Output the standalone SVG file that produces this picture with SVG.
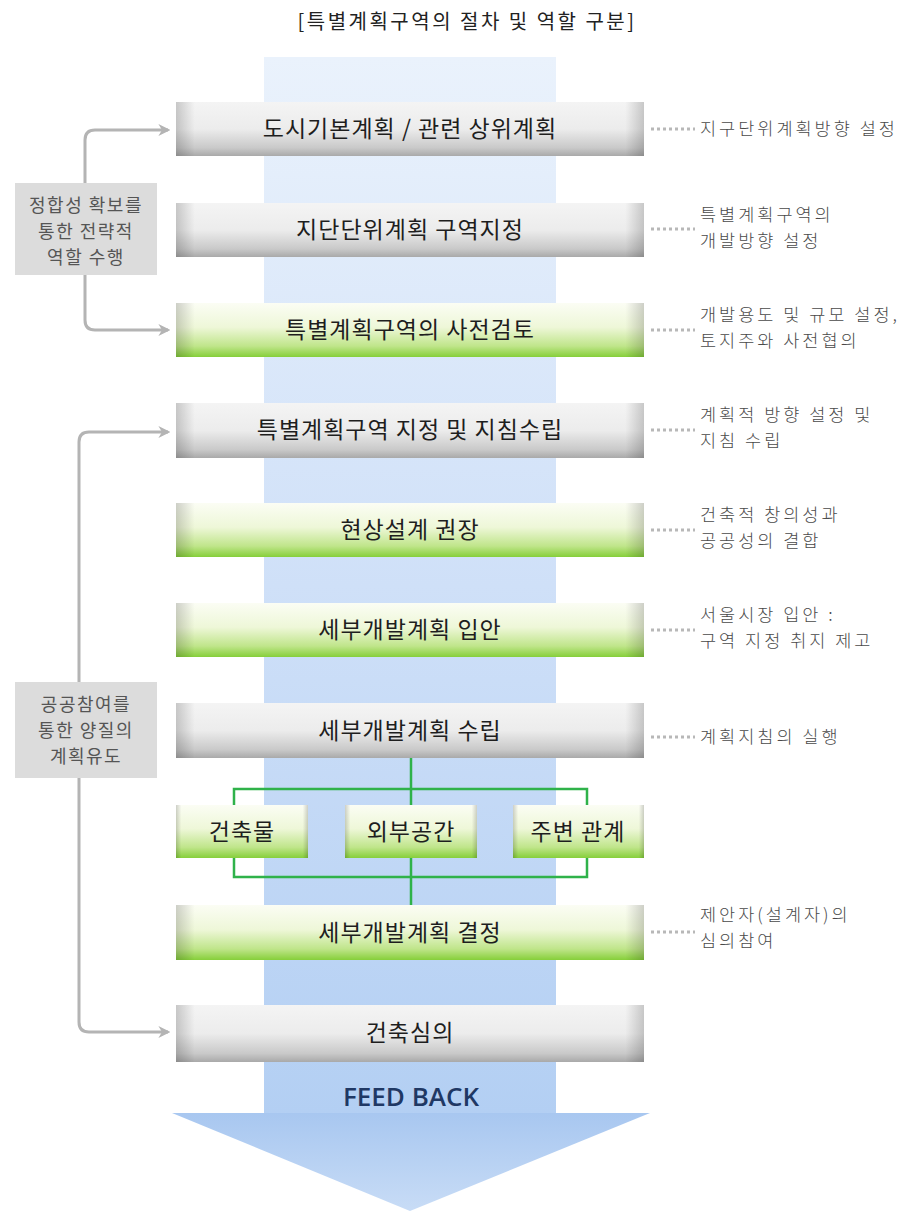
<svg xmlns="http://www.w3.org/2000/svg" width="919" height="1211" viewBox="0 0 919 1211">
<defs>
<linearGradient id="colG" x1="0" y1="0" x2="0" y2="1">
<stop offset="0" stop-color="#eaf2fc"/>
<stop offset="0.5" stop-color="#cfe0f8"/>
<stop offset="1" stop-color="#b3cff3"/>
</linearGradient>
<linearGradient id="headG" x1="0" y1="0" x2="0" y2="1">
<stop offset="0" stop-color="#a8c7f0"/>
<stop offset="1" stop-color="#c8dcf6"/>
</linearGradient>
<linearGradient id="grayG" x1="0" y1="0" x2="0" y2="1">
<stop offset="0" stop-color="#f4f4f4"/>
<stop offset="0.5" stop-color="#ececec"/>
<stop offset="0.85" stop-color="#c9c9c9"/>
<stop offset="1" stop-color="#a9a9a9"/>
</linearGradient>
<linearGradient id="greenG" x1="0" y1="0" x2="0" y2="1">
<stop offset="0" stop-color="#fbfdf4"/>
<stop offset="0.45" stop-color="#eef7d8"/>
<stop offset="0.8" stop-color="#bfe58a"/>
<stop offset="1" stop-color="#86cf3a"/>
</linearGradient>
<linearGradient id="edgeG" x1="0" y1="0" x2="1" y2="0">
<stop offset="0" stop-color="#000" stop-opacity="0.18"/>
<stop offset="0.04" stop-color="#000" stop-opacity="0"/>
<stop offset="0.96" stop-color="#000" stop-opacity="0"/>
<stop offset="1" stop-color="#000" stop-opacity="0.18"/>
</linearGradient>
<marker id="arr" viewBox="0 0 10 10" refX="8" refY="5" markerWidth="4" markerHeight="4" orient="auto" markerUnits="strokeWidth">
<path d="M0,0 L10,5 L0,10 L3,5 Z" fill="#b4b4b4"/>
</marker>
<style>
.bar-g{fill:url(#grayG);}
.bar-n{fill:url(#greenG);}
.edge{fill:url(#edgeG);}
.bt{font-family:"Noto Sans CJK KR","Noto Sans",sans-serif;font-size:23px;font-weight:400;letter-spacing:1px;fill:#1e1e1e;text-anchor:middle;}
.nt{font-family:"Noto Sans CJK KR","Noto Sans",sans-serif;font-size:17.5px;letter-spacing:3px;fill:#4a4a4a;font-weight:300;}
.lb{fill:#dcdcdc;}
.lt{font-family:"Noto Sans CJK KR","Noto Sans",sans-serif;font-size:18px;letter-spacing:1.5px;fill:#555;text-anchor:middle;}
.dot{stroke:#b8b8b8;stroke-width:3;stroke-dasharray:3 3;fill:none;}
.lc{stroke:#b4b4b4;stroke-width:3;fill:none;}
.gl{stroke:#2fb24a;stroke-width:2.5;fill:none;}
</style>
</defs>
<rect width="919" height="1211" fill="#ffffff"/>
<text x="467" y="29" font-family="'Noto Sans CJK KR','Noto Sans',sans-serif" font-size="20" letter-spacing="2.5" fill="#222" text-anchor="middle">[특별계획구역의 절차 및 역할 구분]</text>

<g id="flow-arrow">
<rect x="264" y="57" width="292" height="1057" fill="url(#colG)"/>
<polygon points="172,1113 650,1113 410,1211" fill="url(#headG)"/>
<text x="411" y="1106" font-family="'Open Sans','Noto Sans',sans-serif" font-weight="600" font-size="26" fill="#1f3864" text-anchor="middle">FEED BACK</text>
</g>

<g id="connectors">
<path class="lc" d="M85,183 V140 Q85,130 95,130 H168" marker-end="url(#arr)"/>
<path class="lc" d="M85,275 V320 Q85,330 95,330 H168" marker-end="url(#arr)"/>
<path class="lc" d="M79,682 V442 Q79,432 89,432 H168" marker-end="url(#arr)"/>
<path class="lc" d="M79,778 V1022 Q79,1032 89,1032 H168" marker-end="url(#arr)"/>
<path class="gl" d="M411,758 V905"/>
<path class="gl" d="M234,805 V789 H587 V805"/>
<path class="gl" d="M234,858 V877 H587 V858"/>
<line class="dot" x1="651" y1="129" x2="695" y2="129"/>
<line class="dot" x1="651" y1="229" x2="695" y2="229"/>
<line class="dot" x1="651" y1="330" x2="695" y2="330"/>
<line class="dot" x1="651" y1="430" x2="695" y2="430"/>
<line class="dot" x1="651" y1="530" x2="695" y2="530"/>
<line class="dot" x1="651" y1="630" x2="695" y2="630"/>
<line class="dot" x1="651" y1="737" x2="695" y2="737"/>
<line class="dot" x1="651" y1="932" x2="695" y2="932"/>
</g>

<g id="left1">
<rect class="lb" x="15" y="183" width="142" height="92"/>
<text class="lt" x="86" y="212">정합성 확보를</text>
<text class="lt" x="86" y="238">통한 전략적</text>
<text class="lt" x="86" y="264">역할 수행</text>
</g>
<g id="left2">
<rect class="lb" x="15" y="682" width="142" height="96"/>
<text class="lt" x="86" y="711">공공참여를</text>
<text class="lt" x="86" y="737">통한 양질의</text>
<text class="lt" x="86" y="763">계획유도</text>
</g>

<g id="n1"><rect class="bar-g" x="176" y="102" width="468" height="54"/><rect class="edge" x="176" y="102" width="468" height="54"/><text class="bt" x="410" y="137">도시기본계획 / 관련 상위계획</text></g>
<g id="n2"><rect class="bar-g" x="176" y="203" width="468" height="54"/><rect class="edge" x="176" y="203" width="468" height="54"/><text class="bt" x="410" y="238">지단단위계획 구역지정</text></g>
<g id="n3"><rect class="bar-n" x="176" y="303" width="468" height="54"/><rect class="edge" x="176" y="303" width="468" height="54"/><text class="bt" x="410" y="338">특별계획구역의 사전검토</text></g>
<g id="n4"><rect class="bar-g" x="176" y="403" width="468" height="55"/><rect class="edge" x="176" y="403" width="468" height="55"/><text class="bt" x="410" y="438">특별계획구역 지정 및 지침수립</text></g>
<g id="n5"><rect class="bar-n" x="176" y="503" width="468" height="54"/><rect class="edge" x="176" y="503" width="468" height="54"/><text class="bt" x="410" y="538">현상설계 권장</text></g>
<g id="n6"><rect class="bar-n" x="176" y="603" width="468" height="54"/><rect class="edge" x="176" y="603" width="468" height="54"/><text class="bt" x="410" y="638">세부개발계획 입안</text></g>
<g id="n7"><rect class="bar-g" x="176" y="703" width="468" height="55"/><rect class="edge" x="176" y="703" width="468" height="55"/><text class="bt" x="410" y="739">세부개발계획 수립</text></g>
<g id="n8a"><rect class="bar-n" x="176" y="805" width="132" height="53"/><rect class="edge" x="176" y="805" width="132" height="53"/><text class="bt" x="242" y="840">건축물</text></g>
<g id="n8b"><rect class="bar-n" x="345" y="805" width="132" height="53"/><rect class="edge" x="345" y="805" width="132" height="53"/><text class="bt" x="411" y="840">외부공간</text></g>
<g id="n8c"><rect class="bar-n" x="513" y="805" width="131" height="53"/><rect class="edge" x="513" y="805" width="131" height="53"/><text class="bt" x="578" y="840">주변 관계</text></g>
<g id="n9"><rect class="bar-n" x="176" y="905" width="468" height="55"/><rect class="edge" x="176" y="905" width="468" height="55"/><text class="bt" x="410" y="941">세부개발계획 결정</text></g>
<g id="n10"><rect class="bar-g" x="176" y="1005" width="468" height="57"/><rect class="edge" x="176" y="1005" width="468" height="57"/><text class="bt" x="410" y="1041">건축심의</text></g>

<g id="notes">
<text class="nt" x="700" y="135">지구단위계획방향 설정</text>
<text class="nt" x="700" y="221">특별계획구역의</text>
<text class="nt" x="700" y="247">개발방향 설정</text>
<text class="nt" x="700" y="321">개발용도 및 규모 설정,</text>
<text class="nt" x="700" y="347">토지주와 사전협의</text>
<text class="nt" x="700" y="421">계획적 방향 설정 및</text>
<text class="nt" x="700" y="447">지침 수립</text>
<text class="nt" x="700" y="521">건축적 창의성과</text>
<text class="nt" x="700" y="547">공공성의 결합</text>
<text class="nt" x="700" y="621">서울시장 입안 :</text>
<text class="nt" x="700" y="647">구역 지정 취지 제고</text>
<text class="nt" x="700" y="743">계획지침의 실행</text>
<text class="nt" x="700" y="921">제안자(설계자)의</text>
<text class="nt" x="700" y="947">심의참여</text>
</g>
</svg>
